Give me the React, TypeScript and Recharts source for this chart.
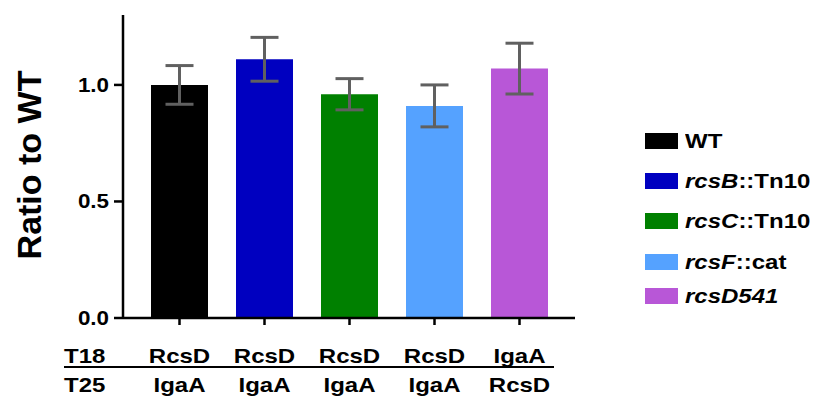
import React from 'react';
import { BarChart, Bar, XAxis, YAxis, ErrorBar, Cell } from 'recharts';

const strains = ['WT', 'rcsB::Tn10', 'rcsC::Tn10', 'rcsF::cat', 'rcsD541'];
const ratios = [1.0, 1.11, 0.96, 0.91, 1.07];
const errors = [0.083, 0.094, 0.067, 0.09, 0.109];
const colors = ['#000000', '#0000C0', '#008000', '#55A2FF', '#B857D7'];
const t18Labels = ['RcsD', 'RcsD', 'RcsD', 'RcsD', 'IgaA'];
const t25Labels = ['IgaA', 'IgaA', 'IgaA', 'IgaA', 'RcsD'];
const rowNames = ['T18', 'T25'];
const yTicks = [0, 0.5, 1.0];
const legendItalic = ['', 'rcsB', 'rcsC', 'rcsF', 'rcsD541'];
const legendPlain = ['WT', '::Tn10', '::Tn10', '::cat', ''];
const legendTops = [133, 173, 213, 254, 288];

const data = strains.map((s, i) => ({ name: s, ratio: ratios[i], err: errors[i], idx: i }));

const FONT = '"Liberation Sans", Arial, sans-serif';

const SText = ({ x, y, anchor = 'middle', sx = 1.2, size = 20, children }: any) => (
  <text
    transform={`translate(${x} ${y}) scale(${sx} 1)`}
    x={0}
    y={0}
    textAnchor={anchor}
    fontFamily={FONT}
    fontWeight="bold"
    fontSize={size}
    fill="#000"
  >
    {children}
  </text>
);

const XTick = (props: any) => {
  const { x, payload, index } = props;
  const i = payload.index ?? index;
  return (
    <g>
      <SText x={x} y={363}>{t18Labels[i]}</SText>
      <SText x={x} y={392}>{t25Labels[i]}</SText>
      {i === 0 && (
        <g>
          <SText x={64} y={363} anchor="start">{rowNames[0]}</SText>
          <SText x={64} y={392} anchor="start">{rowNames[1]}</SText>
          <line x1={64} x2={554} y1={367} y2={367} stroke="#000" strokeWidth={2} />
        </g>
      )}
    </g>
  );
};

const YTick = (props: any) => {
  const { x, y, payload } = props;
  return (
    <SText x={x} y={y + 7} anchor="end" sx={1.12}>
      {Number(payload.value).toFixed(1)}
    </SText>
  );
};

const YLabel = () => (
  <text
    x={29}
    y={165}
    transform="rotate(-90 29 165)"
    textAnchor="middle"
    dominantBaseline="central"
    fontFamily={FONT}
    fontWeight="bold"
    fontSize={34}
    fill="#000"
  >
    Ratio to WT
  </text>
);

export default function App() {
  return (
    <div style={{ position: 'fixed', left: 0, top: 0, width: 816, height: 402, background: '#fff' }}>
      <BarChart
        width={600}
        height={402}
        data={data}
        margin={{ top: 15, right: 25, bottom: 0, left: 0 }}
        barSize={57}
      >
        <XAxis
          dataKey="name"
          height={84}
          padding={{ left: 14, right: 13 }}
          axisLine={{ stroke: '#000', strokeWidth: 2.5 }}
          tickLine={{ stroke: '#000', strokeWidth: 2.5 }}
          tickSize={7}
          tick={<XTick />}
          interval={0}
        />
        <YAxis
          width={123}
          domain={[0, 1.3]}
          ticks={yTicks}
          axisLine={{ stroke: '#000', strokeWidth: 2.5 }}
          tickLine={{ stroke: '#000', strokeWidth: 2.5 }}
          tickSize={9}
          tickMargin={5}
          tick={<YTick />}
          label={<YLabel />}
          allowDataOverflow
        />
        <Bar dataKey="ratio" isAnimationActive={false}>
          {data.map((d, i) => (
            <Cell key={i} fill={colors[i]} />
          ))}
          <ErrorBar dataKey="err" width={14} stroke="#606060" strokeWidth={3} direction="y" />
        </Bar>
      </BarChart>
      {strains.map((s, i) => (
        <div
          key={s}
          style={{
            position: 'absolute',
            left: 645,
            top: legendTops[i] - 4,
            height: 24,
            display: 'flex',
            alignItems: 'center',
            fontFamily: FONT,
            fontWeight: 'bold',
            fontSize: 20,
            color: '#000',
            whiteSpace: 'nowrap',
          }}
        >
          <div style={{ width: 33, height: 16, background: colors[i], marginRight: 7 }} />
          <span style={{ display: 'inline-block', transform: 'scaleX(1.2)', transformOrigin: 'left center' }}>
            {legendItalic[i] && <i>{legendItalic[i]}</i>}
            {legendPlain[i]}
          </span>
        </div>
      ))}
    </div>
  );
}
